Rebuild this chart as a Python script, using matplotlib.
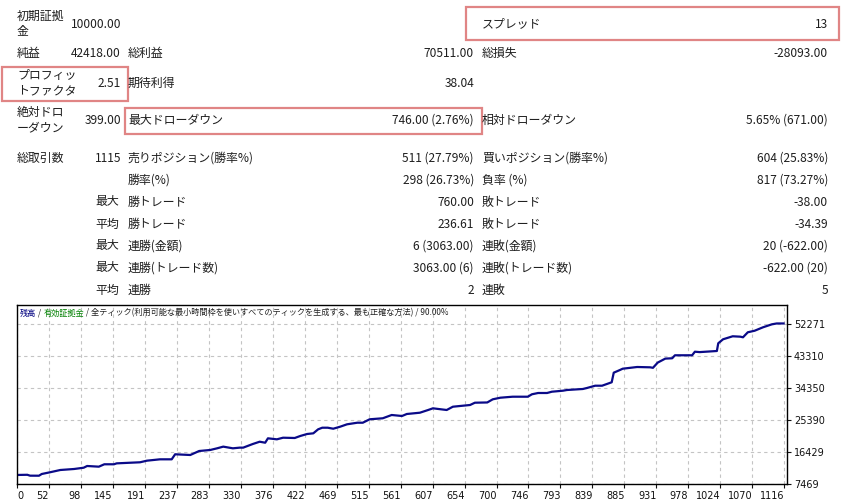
import matplotlib

matplotlib.use("Agg")
import matplotlib.pyplot as plt
from matplotlib.patches import Rectangle

plt.rcParams["font.family"] = ["Noto Sans CJK JP", "DejaVu Sans"]

# --- report table -----------------------------------------------------------
row_labels_1 = ["初期証拠\n金", "純益", "プロフィッ\nトファクタ", "絶対ドロ\nーダウン", "総取引数"]
row_values_1 = ["10000.00", "42418.00", "2.51", "399.00", "1115"]

col2_labels = ["総利益", "期待利得", "最大ドローダウン", "売りポジション(勝率%)", "勝率(%)",
               "勝トレード", "勝トレード", "連勝(金額)", "連勝(トレード数)", "連勝"]
col2_values = ["70511.00", "38.04", "746.00 (2.76%)", "511 (27.79%)", "298 (26.73%)",
               "760.00", "236.61", "6 (3063.00)", "3063.00 (6)", "2"]

col3_labels = ["スプレッド", "総損失", "", "相対ドローダウン", "買いポジション(勝率%)", "負率 (%)",
               "敗トレード", "敗トレード", "連敗(金額)", "連敗(トレード数)", "連敗"]
col3_values = ["13", "-28093.00", "", "5.65% (671.00)", "604 (25.83%)", "817 (73.27%)",
               "-38.00", "-34.39", "20 (-622.00)", "-622.00 (20)", "5"]

qualifiers = ["最大", "平均", "最大", "最大", "平均"]

# --- equity curve (trade number, balance) -----------------------------------
trades = [0, 15, 19, 32, 36, 48, 63, 83, 97, 102, 119, 127, 141, 145, 179, 189, 208,
          225, 230, 252, 265, 281, 291, 300, 314, 324, 329, 343, 353, 361, 365, 378,
          387, 404, 412, 422, 431, 438, 444, 452, 460, 470, 480, 495, 503, 513, 532,
          545, 560, 567, 586, 598, 605, 625, 634, 659, 666, 684, 692, 703, 721, 743,
          749, 758, 771, 778, 794, 800, 823, 829, 841, 851, 858, 865, 868, 877, 881,
          902, 921, 925, 932, 943, 953, 957, 982, 986, 993, 1018, 1020, 1027, 1041,
          1052, 1056, 1063, 1073, 1085, 1098, 1105, 1115]
balance = [10000, 10050, 9800, 9790, 10270, 10750, 11390, 11670, 12030, 12510, 12320,
           12990, 12990, 13250, 13550, 14000, 14380, 14380, 15790, 15590, 16710, 16990,
           17460, 17930, 17460, 17650, 17650, 18670, 19310, 19030, 20260, 19980, 20430,
           20350, 20910, 21470, 21660, 22780, 23230, 23230, 22950, 23510, 24180, 24630,
           24630, 25590, 25870, 26790, 26510, 27070, 27430, 28190, 28660, 28190, 29110,
           29590, 30230, 30300, 31180, 31630, 31910, 31910, 32590, 32950, 32950, 33310,
           33590, 33790, 34070, 34350, 34990, 34990, 35470, 35950, 38640, 39390, 39750,
           40230, 40140, 40000, 41470, 42580, 42670, 43510, 43510, 44510, 44400, 44710,
           46870, 47990, 48830, 48720, 48550, 49950, 50390, 51340, 52180, 52418, 52418]

x_tick_labels = ["0", "52", "98", "145", "191", "237", "283", "330", "376", "422", "469",
                 "515", "561", "607", "654", "700", "746", "793", "839", "885", "931",
                 "978", "1024", "1070", "1116"]
y_ticks = [7469, 16429, 25390, 34350, 43310, 52271]

title_parts = [("残高", "#000080"), (" / ", "#222222"), ("有効証拠金", "#008000"),
               (" / 全ティック(利用可能な最小時間枠を使いすべてのティックを生成する、最も正確な方法) / 90.00%",
                "#222222")]

W, H = 845, 503
TXT = "#1e1e1e"
BOX = "#e08585"

fig = plt.figure(figsize=(W / 100, H / 100), dpi=100)
fig.patch.set_facecolor("white")

# --- chart ------------------------------------------------------------------
left, right, top, bottom = 17, 787, 305, 484
ax = fig.add_axes([left / W, (H - bottom) / H, (right - left) / W, (bottom - top) / H])
ax.plot(trades, balance, color="#0a0a88", lw=1.6)
ax.set_xlim(0, 1120)
ax.set_ylim(7469, 7469 + (bottom - top) * 280)

ax.set_xticks([i * 46.5 for i in range(len(x_tick_labels))])
ax.set_xticklabels(x_tick_labels)
for i, t in enumerate(ax.get_xticklabels()):
    t.set_ha("left" if i == 0 else "right")
ax.set_yticks(y_ticks)
ax.yaxis.tick_right()
ax.tick_params(axis="both", labelsize=7, length=3, width=0.8, pad=2, colors="#111111",
               labelfontfamily="DejaVu Sans")
ax.grid(True, color="#c4c4c4", lw=0.8, linestyle=(0, (3, 3)))
for s in ax.spines.values():
    s.set_color("black")
    s.set_linewidth(1.0)

# overlay in pixel coordinates for the table, boxes and chart caption
ov = fig.add_axes([0, 0, 1, 1])
ov.set_zorder(10)
ov.set_xlim(0, W)
ov.set_ylim(H, 0)
ov.axis("off")

fs = 8.6
rows_1 = [24, 53, 83, 120, 158]
for y, lab, val in zip(rows_1, row_labels_1, row_values_1):
    ov.text(17, y, lab, fontsize=fs, color=TXT, va="center", ha="left", linespacing=1.25)
    ov.text(121, y, val, fontsize=fs, color=TXT, va="center", ha="right")

rows_2 = [53, 83, 120, 158, 180, 202, 224, 246, 268, 290]
for y, lab, val in zip(rows_2, col2_labels, col2_values):
    ov.text(128, y, lab, fontsize=fs, color=TXT, va="center", ha="left")
    ov.text(474, y, val, fontsize=fs, color=TXT, va="center", ha="right")

rows_3 = [24] + rows_2
for y, lab, val in zip(rows_3, col3_labels, col3_values):
    if lab:
        ov.text(482, y, lab, fontsize=fs, color=TXT, va="center", ha="left")
        ov.text(828, y, val, fontsize=fs, color=TXT, va="center", ha="right")

for y, q in zip(rows_2[5:], qualifiers):
    ov.text(119, y, q, fontsize=fs, color=TXT, va="center", ha="right")

# highlight boxes
for (x0, y0, x1, y1) in [(466, 7, 839, 40), (2, 67, 128, 101), (125, 108, 482, 134)]:
    ov.add_patch(Rectangle((x0, y0), x1 - x0, y1 - y0, fill=False, edgecolor=BOX, lw=1.6))

# coloured caption at the top of the chart
fig.canvas.draw()
renderer = fig.canvas.get_renderer()
xpos = 20
for txt, col in title_parts:
    t = ov.text(xpos, 313, txt, fontsize=5.9, color=col, va="center", ha="left")
    bb = t.get_window_extent(renderer)
    xpos = bb.x1

fig.savefig("out.png", dpi=100)
